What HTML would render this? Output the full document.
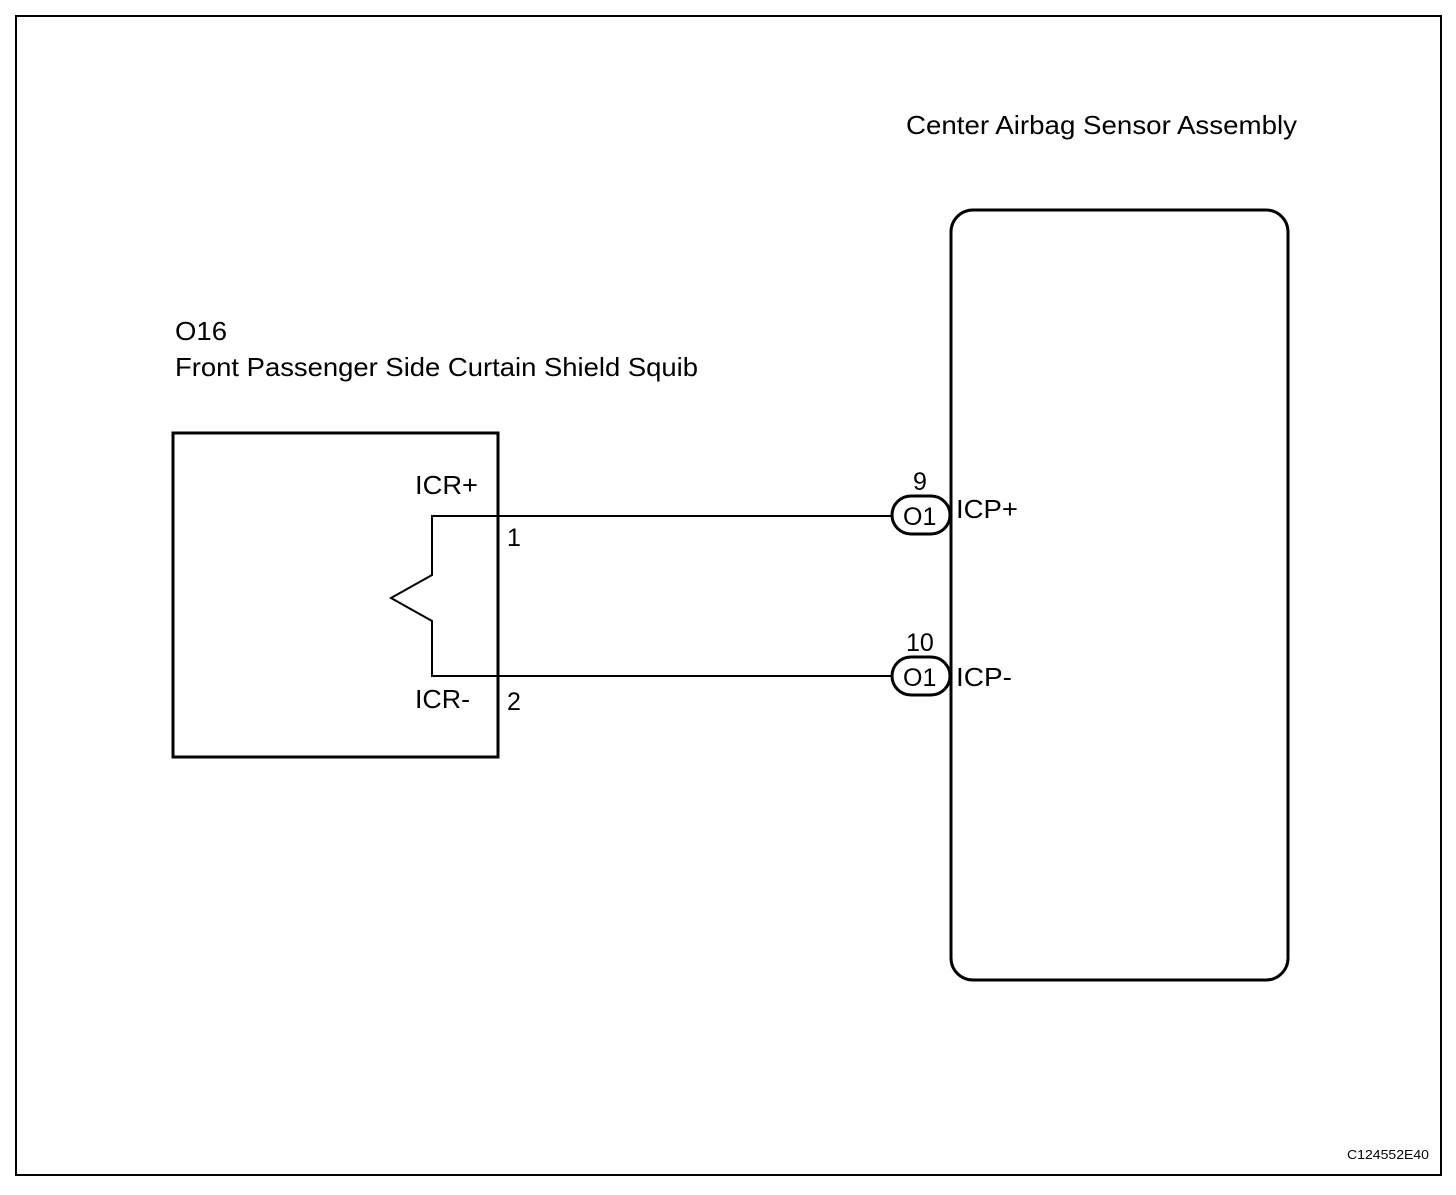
<!DOCTYPE html>
<html><head><style>
body{margin:0;background:#fff}
svg text{font-family:"Liberation Sans",Arial,sans-serif;fill:#000}
</style></head><body>
<svg width="1456" height="1190" xmlns="http://www.w3.org/2000/svg">
<rect x="16" y="16" width="1425" height="1159" fill="none" stroke="#000" stroke-width="2"/>
<text x="906" y="134" font-size="26" textLength="391" lengthAdjust="spacingAndGlyphs">Center Airbag Sensor Assembly</text>
<text x="175" y="340" font-size="26" textLength="52" lengthAdjust="spacingAndGlyphs">O16</text>
<text x="175" y="376" font-size="26" textLength="523" lengthAdjust="spacingAndGlyphs">Front Passenger Side Curtain Shield Squib</text>
<rect x="173" y="433" width="325" height="324" fill="none" stroke="#000" stroke-width="3"/>
<rect x="951" y="210" width="337" height="770" rx="22" fill="none" stroke="#000" stroke-width="3"/>
<polyline points="891,516 432,516 432,575 391,598 432,621 432,676 891,676" fill="none" stroke="#000" stroke-width="2"/>
<text x="415" y="494" font-size="26" textLength="63" lengthAdjust="spacingAndGlyphs">ICR+</text>
<text x="507" y="546" font-size="25">1</text>
<text x="415" y="708" font-size="26" textLength="55" lengthAdjust="spacingAndGlyphs">ICR-</text>
<text x="507" y="710" font-size="25">2</text>
<rect x="892" y="496" width="58" height="38" rx="19" fill="#fff" stroke="#000" stroke-width="3"/>
<text x="903" y="525" font-size="25">O1</text>
<rect x="892" y="657" width="58" height="38" rx="19" fill="#fff" stroke="#000" stroke-width="3"/>
<text x="903" y="686" font-size="25">O1</text>
<line x1="951" y1="480" x2="951" y2="720" stroke="#000" stroke-width="3"/>
<text x="913" y="490" font-size="25">9</text>
<text x="906" y="651" font-size="25">10</text>
<text x="956" y="518" font-size="26" textLength="62" lengthAdjust="spacingAndGlyphs">ICP+</text>
<text x="956" y="686" font-size="26" textLength="56" lengthAdjust="spacingAndGlyphs">ICP-</text>
<text x="1347" y="1159" font-size="13" textLength="82" lengthAdjust="spacingAndGlyphs">C124552E40</text>
</svg>
</body></html>
